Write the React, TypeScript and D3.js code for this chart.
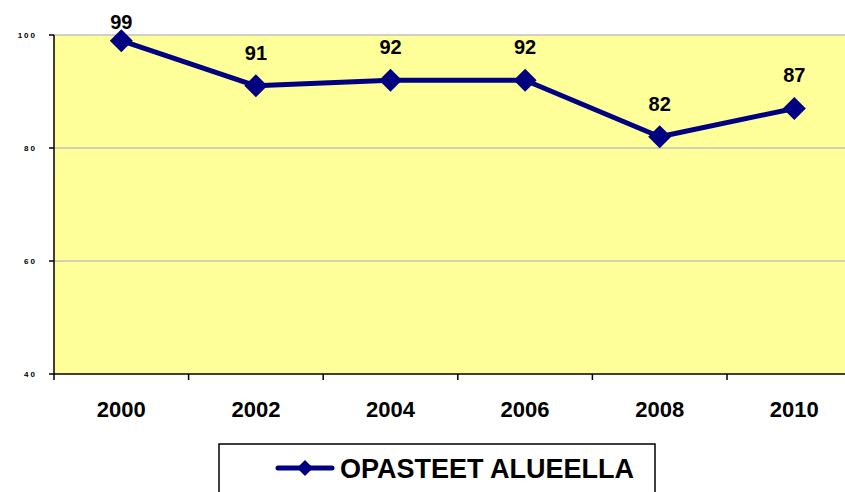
import * as d3 from "d3";

const years = ["2000", "2002", "2004", "2006", "2008", "2010"];
const values = [99, 91, 92, 92, 82, 87];
const yTicks = [40, 60, 80, 100];
const seriesName = "OPASTEET ALUEELLA";

const W = 845;
const H = 492;
const left = 54;
const top = 35;
const bottom = 374;
const band = 134.6;

const App = () => {
  const x = d3
    .scaleBand<string>()
    .domain(years)
    .range([left, left + band * years.length]);
  const y = d3.scaleLinear().domain([40, 100]).range([bottom, top]);

  const line = d3
    .line<number>()
    .x((_, i) => x(years[i])! + x.bandwidth() / 2)
    .y((d) => y(d));

  const diamond = (cx: number, cy: number, r: number) =>
    `M${cx},${cy - r}L${cx + r},${cy}L${cx},${cy + r}L${cx - r},${cy}Z`;

  const font = "'Liberation Sans', Arial, sans-serif";

  return (
    <svg
      width={W}
      height={H}
      style={{ position: "absolute", left: 0, top: 0 }}
      fontFamily={font}
    >
      <rect x={0} y={0} width={W} height={H} fill="white" />
      <rect x={left} y={top} width={W - left} height={bottom - top} fill="#FFFF99" />
      {yTicks
        .filter((t) => t > 40)
        .map((t) => (
          <line key={t} x1={left} x2={W} y1={y(t)} y2={y(t)} stroke="#c0c0c0" strokeWidth={1.5} />
        ))}
      {/* axes */}
      <line x1={left} x2={left} y1={top} y2={bottom} stroke="black" strokeWidth={1.5} />
      <line x1={left} x2={W} y1={bottom} y2={bottom} stroke="black" strokeWidth={1.5} />
      {yTicks.map((t) => (
        <g key={t}>
          <line x1={left - 5} x2={left} y1={y(t)} y2={y(t)} stroke="black" strokeWidth={1.5} />
          <text
            x={37}
            y={y(t) + 3}
            textAnchor="end"
            fontSize={8}
            fontWeight="bold"
            letterSpacing={2}
          >
            {t}
          </text>
        </g>
      ))}
      {years.map((yr) => (
        <g key={yr}>
          <line
            x1={x(yr)!}
            x2={x(yr)!}
            y1={bottom}
            y2={bottom + 6}
            stroke="black"
            strokeWidth={1.5}
          />
          <text
            x={x(yr)! + x.bandwidth() / 2}
            y={417}
            textAnchor="middle"
            fontSize={22}
            fontWeight="bold"
          >
            {yr}
          </text>
        </g>
      ))}
      <path d={line(values) ?? undefined} fill="none" stroke="#000080" strokeWidth={5} strokeLinejoin="round" />
      {values.map((v, i) => {
        const cx = x(years[i])! + x.bandwidth() / 2;
        const cy = y(v);
        return (
          <g key={i}>
            <path d={diamond(cx, cy, 11.5)} fill="#000080" />
            <text
              x={cx}
              y={Math.max(cy - 26, 29)}
              textAnchor="middle"
              fontSize={20}
              fontWeight="bold"
            >
              {v}
            </text>
          </g>
        );
      })}
      {/* legend */}
      <rect x={219} y={444} width={436} height={60} fill="white" stroke="black" strokeWidth={1.5} />
      <line x1={278} x2={332} y1={468} y2={468} stroke="#000080" strokeWidth={5} strokeLinecap="round" />
      <path d={diamond(305, 468, 8)} fill="#000080" />
      <text x={340} y={478} fontSize={27} fontWeight="bold">
        {seriesName}
      </text>
    </svg>
  );
};

export default App;
